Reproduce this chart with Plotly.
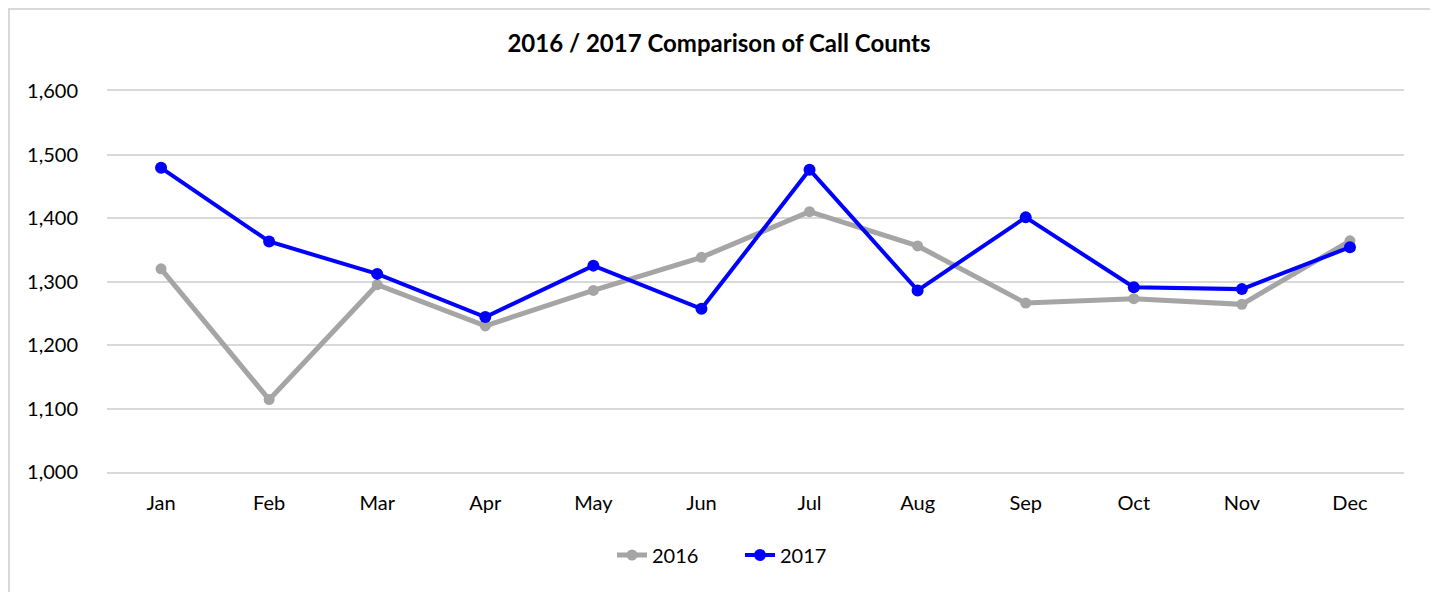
import plotly.graph_objects as go

months = ["Jan", "Feb", "Mar", "Apr", "May", "Jun", "Jul", "Aug", "Sep", "Oct", "Nov", "Dec"]
calls_2016 = [1320, 1114, 1295, 1230, 1286, 1338, 1410, 1356, 1266, 1273, 1264, 1364]
calls_2017 = [1479, 1363, 1312, 1244, 1325, 1257, 1476, 1286, 1401, 1291, 1288, 1354]
y_ticks = [1000, 1100, 1200, 1300, 1400, 1500, 1600]

font = "Lato, Calibri, 'Open Sans', sans-serif"

# page shows the figure 8px in from the top-left (body margin)
W, H = 1438, 592
ML, MR, MT, MB = 99, 42, 83, 128
pw = W - ML - MR
ph = H - MT - MB

fig = go.Figure()
fig.add_trace(go.Scatter(x=months, y=calls_2016, name="2016", mode="lines+markers",
                         line=dict(color="#A5A5A5", width=5),
                         marker=dict(color="#A5A5A5", size=11)))
fig.add_trace(go.Scatter(x=months, y=calls_2017, name="2017", mode="lines+markers",
                         line=dict(color="#0000FF", width=4),
                         marker=dict(color="#0000FF", size=12)))

# outer chart border
fig.add_shape(type="rect", xref="paper", yref="paper",
              x0=(1 - ML) / pw, x1=(1425 - ML) / pw,
              y0=(MT + ph - 600) / ph, y1=(MT + ph - 1) / ph,
              line=dict(color="#D9D9D9", width=2), layer="below")

fig.update_layout(
    width=W, height=H,
    margin=dict(l=ML, r=MR, t=MT, b=MB),
    paper_bgcolor="white", plot_bgcolor="white",
    font=dict(family=font, size=20, color="#000000"),
    title=dict(text="<b>2016 / 2017 Comparison of Call Counts</b>",
               x=(719 - 8) / W, xanchor="center", y=1 - 36 / H, yanchor="middle",
               font=dict(size=24)),
    showlegend=True,
    legend=dict(orientation="h", x=0.5 + (740 - 8 - ML - pw / 2) / pw, xanchor="center",
                y=(MT + ph - (555 - 8)) / ph, yanchor="middle",
                font=dict(size=20), entrywidth=83),
    xaxis=dict(range=[-0.5, 11.5], showgrid=False, zeroline=False,
               showline=True, mirror=True, linecolor="#D9D9D9", linewidth=2,
               ticks="", ticklabelstandoff=12),
    yaxis=dict(range=[1000, 1600], tickvals=y_ticks, tickformat=",",
               showgrid=True, gridcolor="#D9D9D9", gridwidth=2,
               zeroline=False, showline=False, ticks="", ticklabelstandoff=28),
)

fig.write_html("out.html")
